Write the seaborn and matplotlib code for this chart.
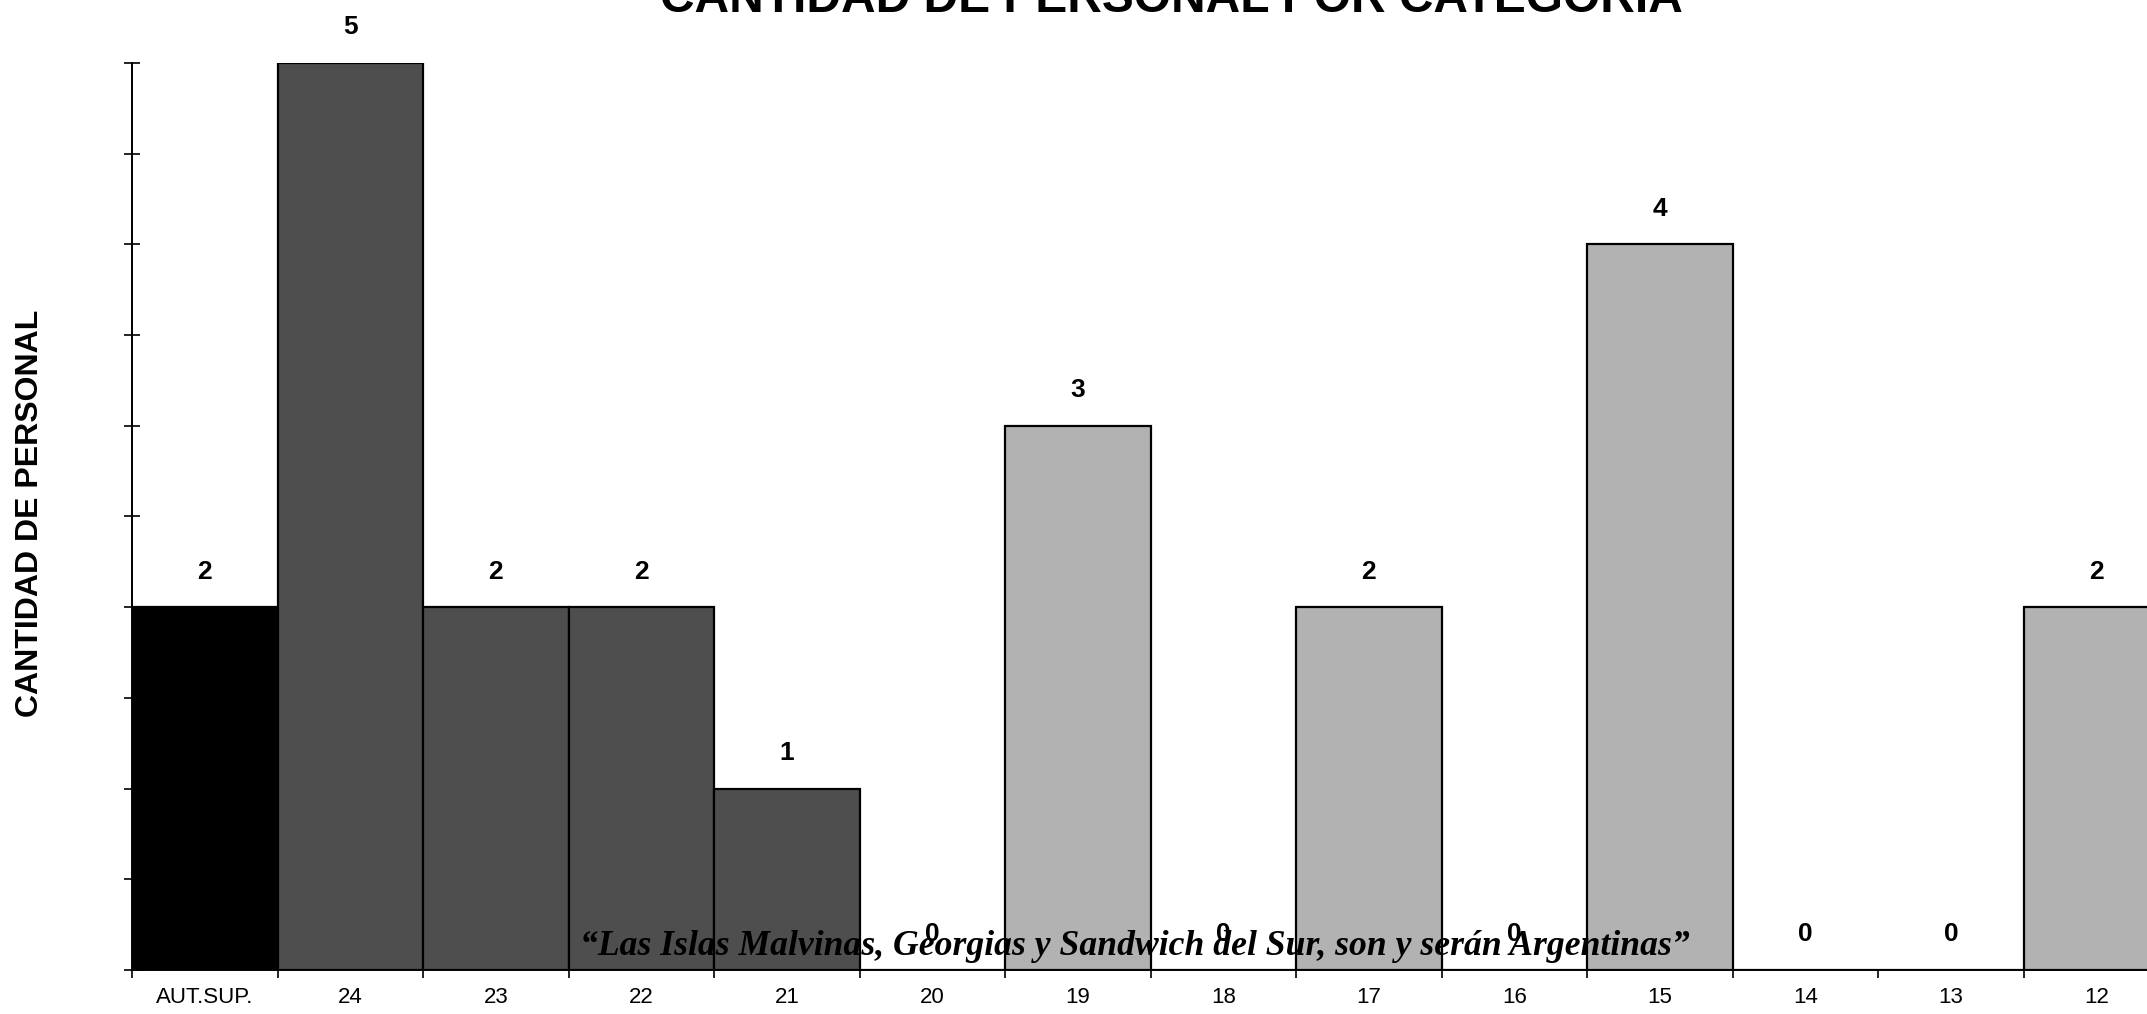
import matplotlib
matplotlib.use("Agg")
import matplotlib.pyplot as plt
import seaborn as sns
import numpy as np

categorias = ["AUT.SUP.", "24", "23", "22", "21", "20", "19", "18", "17", "16", "15", "14", "13", "12"]
cantidad = [2, 5, 2, 2, 1, 0, 3, 0, 2, 0, 4, 0, 0, 2]
colores = ["#000000", "#4e4e4e", "#4e4e4e", "#4e4e4e", "#4e4e4e", "#4e4e4e",
           "#b2b2b2", "#b2b2b2", "#b2b2b2", "#b2b2b2", "#b2b2b2", "#b2b2b2", "#b2b2b2", "#b2b2b2"]
y_ticks = np.arange(0, 5.01, 0.5)

titulo = "CANTIDAD DE PERSONAL POR CATEGORIA"
eje_y = "CANTIDAD DE PERSONAL"
lema = "\u201cLas Islas Malvinas, Georgias y Sandwich del Sur, son y ser\u00e1n Argentinas\u201d"

sns.set_style("white")
plt.rcParams["font.family"] = ["Liberation Sans", "DejaVu Sans"]
plt.rcParams["text.color"] = "black"
plt.rcParams["xtick.color"] = "black"
plt.rcParams["ytick.color"] = "black"

fig = plt.figure(figsize=(21.47, 10.14), dpi=100)
ax = fig.add_axes([0.0615, 0.0434, 0.9488, 0.8945])

sns.barplot(x=categorias, y=cantidad, hue=categorias, palette=colores, width=1.0,
            edgecolor="black", linewidth=1.6, legend=False, saturation=1, ax=ax)

# etiquetas de valor sobre cada barra
for i, v in enumerate(cantidad):
    ax.annotate(str(v), (i, v), xytext=(0, 17), textcoords="offset points",
                ha="center", va="bottom", fontsize=19, fontweight="bold", color="black")

ax.set_xlim(-0.5, len(categorias) - 0.5)
ax.set_ylim(0, 5)
ax.set_yticks(y_ticks)
ax.set_yticklabels([])
ax.tick_params(axis="y", direction="inout", length=12, width=1.2, color="black", left=True)
ax.set_xticks(np.arange(len(categorias)))
ax.set_xticklabels(categorias, fontsize=16, color="black")
ax.tick_params(axis="x", which="major", length=0, pad=12)
ax.set_xticks(np.arange(-0.5, len(categorias), 1), minor=True)
ax.tick_params(axis="x", which="minor", direction="out", length=6, width=1.2, color="black", bottom=True)
ax.set_xlabel("")
ax.set_ylabel("")

for s in ["top", "right"]:
    ax.spines[s].set_visible(False)
for s in ["left", "bottom"]:
    ax.spines[s].set_color("black")
    ax.spines[s].set_linewidth(1.4)

fig.text(0.5457, 0.988, titulo, ha="center", va="baseline", fontsize=34.5, fontweight="bold", color="black")
fig.text(0.014, 0.494, eje_y, rotation=90, ha="center", va="center", fontsize=23, fontweight="bold", color="black")
fig.text(0.5287, 0.058, lema, ha="center", va="baseline", fontsize=25.7, color="black",
         fontweight="bold", fontstyle="italic", family=["Liberation Serif", "DejaVu Serif"])

fig.savefig("out.png", dpi=100)
